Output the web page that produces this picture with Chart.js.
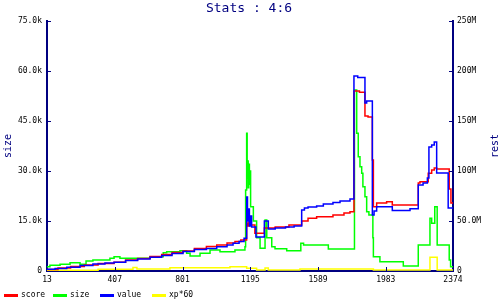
<!DOCTYPE html>
<html>
<head>
<meta charset="utf-8">
<script src="https://cdn.jsdelivr.net/npm/chart.js@4.4.0/dist/chart.umd.min.js"></script>
<style>
  html, body { margin: 0; padding: 0; background: #fff; }
  #wrap { width: 500px; height: 300px; }
</style>
</head>
<body>
<div id="wrap"><canvas id="stats" width="500" height="300"></canvas></div>
<script>
// --- DATI ---
const titleText = 'Stats : 4:6';
const leftTitle = 'size';
const rightTitle = 'rest';

const xTicks = [13, 407, 801, 1195, 1589, 1983, 2374];
const sizeTicks = [0, 15, 30, 45, 60, 75];               // migliaia
const sizeTickLabels = ['0', '15.0k', '30.0k', '45.0k', '60.0k', '75.0k'];
const restTicks = [0, 50, 100, 150, 200, 250];           // milioni
const restTickLabels = ['0', '50.0M', '100M', '150M', '200M', '250M'];

// score (M)
const scoreX = [13, 77, 150, 230, 310, 403, 470, 540, 612, 680, 740, 804, 870, 940, 1000, 1060, 1106, 1140, 1174, 1180,
  1188, 1197, 1222, 1277, 1340, 1420, 1494, 1531, 1581, 1676, 1740, 1775, 1798, 1830, 1862, 1880, 1905, 1911, 1930, 1988,
  2021, 2172, 2182, 2230, 2250, 2265, 2279, 2352, 2362, 2374];
const scoreM = [1.5, 3, 4.5, 6, 7.5, 8.7, 11, 12.5, 14.5, 16.5, 18.5, 20, 22.5, 24.5, 26, 28, 29.5, 31, 48, 45,
  49, 46, 37.7, 43, 44, 46, 50, 52.7, 54.3, 56, 58, 59.3, 180, 178.7, 155, 154, 111, 64.3, 68, 69.3,
  66, 88, 89.3, 97.7, 101, 103, 102, 82, 68, 68];

// size (k)
const sizeX = [13, 30, 89, 147, 205, 240, 280, 379, 403, 437, 612, 689, 709, 786, 825, 845, 903, 961, 1019, 1106,
  1164, 1168, 1174, 1177, 1180, 1183, 1186, 1190, 1193, 1197, 1213, 1232, 1252, 1281, 1291, 1320, 1339, 1407, 1489, 1505,
  1649, 1801, 1814, 1823, 1833, 1843, 1850, 1862, 1872, 1885, 1908, 1911, 1949, 2085, 2172, 2240, 2250, 2268, 2282, 2352,
  2360, 2374];
const sizeK = [1.3, 1.7, 2, 2.5, 2, 3, 3.3, 3.8, 4.3, 3.8, 4.3, 5.5, 5.8, 6.1, 5.3, 4.5, 5.3, 6.3, 5.8, 6.3,
  7.3, 24.3, 41.3, 28, 33, 25, 32, 26, 30, 19.3, 15, 10, 6.8, 15.3, 10, 7.3, 6.7, 6.1, 8.3, 7.8,
  6.6, 54.3, 41.3, 34.3, 31.3, 29.3, 25.3, 22.3, 17.8, 16.8, 10, 4.3, 2.8, 1.5, 7.8, 15.8, 14.3, 19.3, 7.8, 3.3,
  1.3, 1.3];

// value (M)
const valueX = [13, 60, 128, 205, 280, 350, 403, 470, 540, 612, 680, 740, 804, 870, 940, 1000, 1060, 1095, 1130, 1159,
  1174, 1179, 1184, 1190, 1197, 1203, 1228, 1277, 1300, 1340, 1400, 1450, 1494, 1510, 1531, 1581, 1620, 1676, 1717, 1775,
  1798, 1820, 1862, 1872, 1905, 1915, 1930, 2021, 2124, 2172, 2200, 2225, 2234, 2250, 2265, 2279, 2346, 2374];
const valueM = [1.7, 2.5, 3.7, 5.5, 7, 8, 8.7, 10.5, 12, 13.7, 15.5, 17.5, 19.5, 21.5, 22.5, 24.3, 26, 27.7, 29.5, 32.7,
  74, 50, 62, 45, 55, 44, 34, 50, 42, 43, 44, 45, 61, 63, 64, 65, 67, 68.5, 70, 72,
  195, 193.5, 168, 170, 56, 60, 64.3, 60.5, 62.3, 86, 88, 93, 124, 126, 129, 98, 63, 63];

// xp*60 (M)
const xpX = [13, 310, 513, 536, 728, 1077, 1174, 1232, 1281, 1300, 1484, 1911, 2240, 2282, 2374];
const xpM = [0.8, 1.7, 3.5, 2, 3.3, 4.3, 2.7, 1, 3, 1, 2, 1, 13.7, 1, 1];

// --- STILE ---
const NAVY = '#000080';
const MONO = "'DejaVu Sans Mono', monospace";

const pts = (xs, ys) => xs.map((x, i) => ({ x: x, y: ys[i] }));

function makeSet(label, xs, ys, color, axis, order) {
    return {
        label: label,
        data: pts(xs, ys),
        borderColor: color,
        backgroundColor: color,
        borderWidth: 1.5,
        pointRadius: 0,
        stepped: true,
        fill: false,
        yAxisID: axis,
        order: order
    };
}

// titolo, titoli assi, tacche interne, legenda
const decorations = {
    id: 'decorations',
    afterDraw(chart) {
        const ctx = chart.ctx;
        const area = chart.chartArea;
        const sx = chart.scales.x, sl = chart.scales.size, sr = chart.scales.rest;
        ctx.save();

        ctx.strokeStyle = NAVY;
        ctx.lineWidth = 1;
        ctx.beginPath();
        xTicks.slice(1, -1).forEach(v => {
            const p = Math.round(sx.getPixelForValue(v)) + 0.5;
            ctx.moveTo(p, area.bottom);
            ctx.lineTo(p, area.bottom - 4);
        });
        sizeTicks.slice(1).forEach(v => {
            const p = Math.round(sl.getPixelForValue(v)) + 0.5;
            ctx.moveTo(area.left, p);
            ctx.lineTo(area.left + 4, p);
        });
        restTicks.slice(1).forEach(v => {
            const p = Math.round(sr.getPixelForValue(v)) + 0.5;
            ctx.moveTo(area.right, p);
            ctx.lineTo(area.right - 4, p);
        });
        ctx.stroke();

        // titolo
        ctx.fillStyle = NAVY;
        ctx.font = '13px ' + MONO;
        ctx.textAlign = 'center';
        ctx.textBaseline = 'middle';
        ctx.fillText(titleText, 249, 9);

        // titoli assi (ruotati)
        const midY = (area.top + area.bottom) / 2;
        ctx.font = '10px ' + MONO;
        [[leftTitle, 8], [rightTitle, 495]].forEach(([txt, x]) => {
            ctx.save();
            ctx.translate(x, midY);
            ctx.rotate(-Math.PI / 2);
            ctx.fillText(txt, 0, 0);
            ctx.restore();
        });

        // legenda
        const slots = [4, 53, 100, 152];
        const ly = 295;
        ctx.font = '8px ' + MONO;
        ctx.textAlign = 'left';
        chart.data.datasets.forEach((ds, i) => {
            const x0 = slots[i];
            ctx.strokeStyle = ds.borderColor;
            ctx.lineWidth = 3;
            ctx.beginPath();
            ctx.moveTo(x0, ly + 0.5);
            ctx.lineTo(x0 + 14, ly + 0.5);
            ctx.stroke();
            ctx.fillStyle = '#000';
            ctx.fillText(ds.label, x0 + 17, ly);
        });
        ctx.restore();
    }
};

const tickFont = { family: MONO, size: 8 };

new Chart(document.getElementById('stats'), {
    type: 'line',
    data: {
        datasets: [
            makeSet('score', scoreX, scoreM, '#ff0000', 'rest', 1),
            makeSet('size', sizeX, sizeK, '#00ff00', 'size', 2),
            makeSet('value', valueX, valueM, '#0000ff', 'rest', 0),
            makeSet('xp*60', xpX, xpM, '#ffff00', 'rest', 3)
        ]
    },
    options: {
        responsive: false,
        animation: false,
        events: [],
        layout: { padding: { top: 21, left: 0, right: 0, bottom: 0 } },
        plugins: { legend: { display: false }, title: { display: false }, tooltip: { enabled: false } },
        scales: {
            x: {
                type: 'linear',
                min: 13,
                max: 2374,
                afterBuildTicks: s => { s.ticks = xTicks.map(v => ({ value: v })); },
                afterFit: s => { s.height = 29; },
                grid: { display: false, drawTicks: false },
                border: { display: true, color: NAVY, width: 2 },
                ticks: { color: '#000', font: tickFont, padding: 4, maxRotation: 0, autoSkip: false, callback: v => String(v) }
            },
            size: {
                type: 'linear',
                position: 'left',
                min: 0,
                max: 75,
                afterBuildTicks: s => { s.ticks = sizeTicks.map(v => ({ value: v })); },
                afterFit: s => { s.width = 47; },
                grid: { display: false, drawTicks: false },
                border: { display: true, color: NAVY, width: 2 },
                ticks: { color: '#000', font: tickFont, padding: 5, callback: (v, i) => sizeTickLabels[i] }
            },
            rest: {
                type: 'linear',
                position: 'right',
                min: 0,
                max: 250,
                afterBuildTicks: s => { s.ticks = restTicks.map(v => ({ value: v })); },
                afterFit: s => { s.width = 47; },
                grid: { display: false, drawTicks: false },
                border: { display: true, color: NAVY, width: 2 },
                ticks: { color: '#000', font: tickFont, padding: 4, callback: (v, i) => restTickLabels[i] }
            }
        }
    },
    plugins: [decorations]
});
</script>
</body>
</html>
